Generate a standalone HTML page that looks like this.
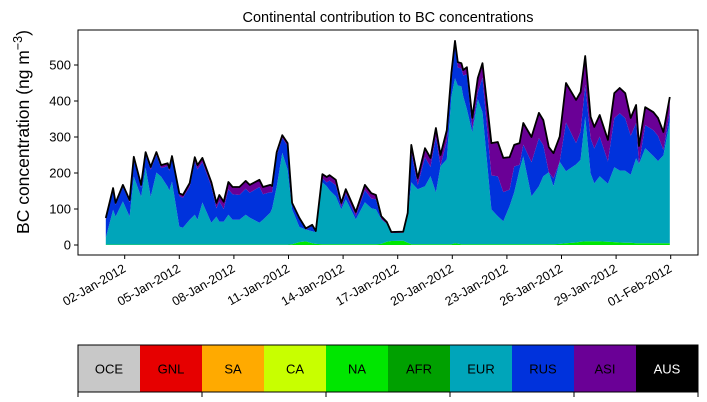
<!DOCTYPE html>
<html><head><meta charset="utf-8"><style>
body{margin:0;background:#fff;}
svg{display:block;font-family:"Liberation Sans","DejaVu Sans",sans-serif;}
</style></head><body>
<svg id="chart" width="707" height="402" viewBox="0 0 707 402">
<rect width="707" height="402" fill="#fff"/>
<text x="388" y="22" font-size="14.5" text-anchor="middle">Continental contribution to BC concentrations</text>
<g id="plot"></g>
<g id="axes"></g>
<text transform="translate(29,132) rotate(-90)" font-size="17.5" text-anchor="middle">BC concentration (ng m<tspan dy="-7" font-size="12.5">−3</tspan><tspan dy="7">)</tspan></text>
<g id="legend"></g>
</svg>
<script>
// time in January 2012 day numbers
const days=[0.96,1.36,1.5,1.9,2.27,2.5,2.9,3.15,3.43,3.74,4.0,4.36,4.45,4.6,5.0,5.2,5.57,5.85,6.0,6.27,6.76,7.04,7.2,7.44,7.7,7.93,8.3,8.65,8.87,9.4,9.6,10.0,10.1,10.35,10.66,10.95,11.2,11.6,11.95,12.3,12.5,12.86,13.1,13.26,13.6,13.9,14.15,14.7,15.2,15.55,15.8,16.1,16.4,16.65,17.3,17.55,17.75,18.1,18.5,18.8,19.1,19.35,19.7,19.95,20.15,20.3,20.5,20.6,20.8,21.1,21.4,21.66,22.15,22.5,22.8,23.15,23.4,23.7,23.9,24.35,24.76,25.0,25.3,25.56,25.9,26.25,26.8,27.05,27.3,27.6,27.8,28.1,28.55,28.9,29.2,29.5,29.8,30.1,30.26,30.6,31.05,31.3,31.6,31.95];
const totalBC=[75,158,117,167,125,245,167,258,217,258,222,227,214,247,144,139,172,244,222,242,175,117,139,120,175,161,161,178,167,181,161,167,164,258,305,283,117,75,36,56,36,197,189,194,181,117,155,92,167,144,139,78,64,31,31,78,278,186,269,242,325,250,319,478,567,508,505,486,494,353,464,505,283,286,242,244,278,283,339,300,367,347,222,255,255,450,403,425,525,356,328,361,292,422,436,422,353,389,255,383,369,353,314,411];
const eurBC=[19,97,78,120,78,189,133,214,133,200,189,161,150,175,50,47,69,83,69,117,61,78,64,64,83,69,69,83,75,61,69,89,100,161,255,208,97,42,33,33,33,172,161,150,133,97,125,69,117,100,97,69,50,22,22,78,172,153,161,189,144,217,236,411,458,439,439,411,375,311,403,367,97,78,64,106,144,208,244,133,161,189,200,161,228,200,217,228,347,189,161,181,161,208,200,200,189,236,220,264,242,228,244,339];
const asiBC=[5,6,6,6,6,8,8,8,8,8,8,8,8,8,8,8,10,12,12,12,12,15,18,20,20,20,22,22,22,20,20,20,18,10,8,8,5,3,3,3,3,12,15,15,15,12,12,12,15,15,12,8,5,3,3,5,20,20,25,25,25,30,30,20,15,15,15,15,20,30,40,40,90,95,95,90,60,60,60,70,70,70,70,70,70,110,120,110,80,60,60,60,60,70,70,70,50,50,50,50,50,50,50,40];
const naBC=[1,1,1,1,1,1,1,1,1,1,1,1,1,1,1,1,1,1,1,1,1,1,1,1,1,1,1,1,1,1,1,1,1,1,1,1,2,8,10,5,3,2,2,2,2,2,2,2,2,2,2,3,9,11,12,6,2,2,2,2,2,2,2,2,5,4,2,2,2,2,2,2,2,2,2,2,2,2,2,2,2,2,2,2,3,5,7,9,10,10,10,10,9,8,7,6,6,5,5,5,5,5,5,5];
const yTicks=[0,100,200,300,400,500];
const xTickDays=[2,5,8,11,14,17,20,23,26,29,32];
const xTickLabels=["02-Jan-2012","05-Jan-2012","08-Jan-2012","11-Jan-2012","14-Jan-2012","17-Jan-2012","20-Jan-2012","23-Jan-2012","26-Jan-2012","29-Jan-2012","01-Feb-2012"];
const regions=["OCE","GNL","SA","CA","NA","AFR","EUR","RUS","ASI","AUS"];
const regionColors=["#c8c8c8","#e60000","#ffaa00","#c8ff00","#00e600","#00a000","#00a5ba","#0032dc","#6a0096","#000000"];

const NS="http://www.w3.org/2000/svg";
const X0=78,X1=698,Y0=30,Y1=255;
function xs(d){return 124.7+(d-2)*18.2;}
function ys(v){return 245-v*0.36;}
function mk(tag,attrs,parent){const e=document.createElementNS(NS,tag);for(const k in attrs)e.setAttribute(k,attrs[k]);parent.appendChild(e);return e;}
const plot=document.getElementById('plot'),axes=document.getElementById('axes'),legend=document.getElementById('legend');

const n=days.length;
const c1=[],c2=[],c3=[],c4=[];
for(let i=0;i<n;i++){
  c1.push(naBC[i]);
  c2.push(naBC[i]+eurBC[i]);
  c4.push(Math.max(totalBC[i],c2[i]+asiBC[i]));
  c3.push(Math.max(c2[i],c4[i]-asiBC[i]));
}
function band(lo,hi,color,name){
  let d='';
  for(let i=0;i<n;i++)d+=(i?'L':'M')+xs(days[i]).toFixed(1)+','+ys(hi[i]).toFixed(1);
  for(let i=n-1;i>=0;i--)d+='L'+xs(days[i]).toFixed(1)+','+ys(lo?lo[i]:0).toFixed(1);
  const p=mk('path',{d:d+'Z',fill:color},plot);
  
  
}
band(null,c1,regionColors[4],'area-na');
band(c1,c2,regionColors[6],'area-eur');
band(c2,c3,regionColors[7],'area-rus');
band(c3,c4,regionColors[8],'area-asi');
let ld='';
for(let i=0;i<n;i++)ld+=(i?'L':'M')+xs(days[i]).toFixed(1)+','+ys(c4[i]).toFixed(1);
const tl=mk('path',{d:ld,fill:'none',stroke:'#000','stroke-width':1.8,'stroke-linejoin':'round'},plot);



const fr=mk('rect',{x:X0,y:Y0,width:X1-X0,height:Y1-Y0,fill:'none',stroke:'#000','stroke-width':1},axes);


yTicks.forEach(v=>{
  const y=ys(v);
  mk('line',{x1:X0-4,x2:X0,y1:y,y2:y,stroke:'#000'},axes);
  const t=mk('text',{x:X0-7,y:y+4.5,'font-size':13,'text-anchor':'end'},axes);
  t.textContent=v;
  
  
});
xTickDays.forEach((d,i)=>{
  const x=xs(d);
  mk('line',{x1:x,x2:x,y1:Y1,y2:Y1+4,stroke:'#000'},axes);
  const t=mk('text',{x:x+2,y:Y1+16,'font-size':12.5,'text-anchor':'end',transform:'rotate(-30 '+(x+2)+' '+(Y1+16)+')'},axes);
  t.textContent=xTickLabels[i];
  
  
});

const LX=78,LW=62,LY=345,LH=47;
regions.forEach((r,i)=>{
  const g=mk('g',{},legend);
  
  
  mk('rect',{x:LX+i*LW,y:LY,width:LW,height:LH,fill:regionColors[i]},g);
  const t=mk('text',{x:LX+i*LW+LW/2,y:LY+LH/2+5,'font-size':13,'text-anchor':'middle',fill:r==='AUS'?'#fff':'#000'},g);
  t.textContent=r;
});
mk('rect',{x:LX,y:LY,width:LW*10,height:LH,fill:'none',stroke:'#000','stroke-width':1},legend);
for(let k=0;k<=5;k++){const x=LX+k*2*LW;mk('line',{x1:x,x2:x,y1:LY+LH,y2:LY+LH+5,stroke:'#000'},legend);}
</script>
</body></html>
